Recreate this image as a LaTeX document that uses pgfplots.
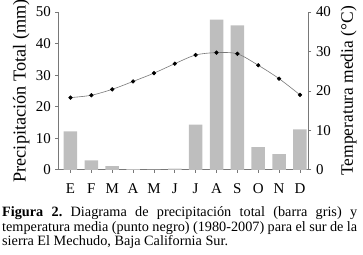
\documentclass[border=0pt]{standalone}
\usepackage{fontspec}
\setmainfont{Liberation Serif}
\usepackage{pgfplots}
\pgfplotsset{compat=1.18}
\definecolor{barcol}{RGB}{190,190,190}
\definecolor{axcol}{RGB}{120,120,120}
\definecolor{lincol}{RGB}{120,120,120}
\begin{document}
\frenchspacing
\begin{tikzpicture}[x=1bp,y=1bp]
\path[use as bounding box] (0,0) rectangle (363,255);
\begin{axis}[
  at={(58.5bp,85.2bp)}, anchor=south west,
  scale only axis, width=249.8bp, height=157.8bp,
  xmin=-0.575, xmax=11.4, ymin=0, ymax=50,
  axis y line*=left, axis x line*=bottom,
  axis line style={draw=axcol, line width=0.6bp, -},
  xtick={0,...,11},
  xticklabels={E,F,M,A,M,J,J,A,S,O,N,D},
  ytick={0,10,20,30,40,50},
  tick align=outside,
  major tick length=3bp,
  tick style={draw=axcol, line width=0.6bp},
  tick label style={font=\fontsize{15}{17}\selectfont},
  /pgf/number format/assume math mode=true,
  xticklabel style={anchor=base, inner sep=0pt, yshift=-20.5bp},
  yticklabel style={anchor=east, inner sep=0pt, xshift=-4.5bp},
  ylabel={Precipitación Total (mm)},
  ylabel style={font=\fontsize{18.3}{20}\selectfont, at={(axis description cs:-0.132,0.5)}, anchor=base, inner sep=0pt},
  clip=false,
]
\addplot[ybar, bar width=13.5bp, fill=barcol, draw=none] coordinates {
(0,12.2) (1,3.0) (2,1.2) (3,0.2) (4,0.05) (5,0.4) (6,14.3) (7,47.6) (8,45.8) (9,7.2) (10,5.0) (11,12.8)
};
\end{axis}
\begin{axis}[
  at={(58.5bp,85.2bp)}, anchor=south west,
  scale only axis, width=249.8bp, height=157.8bp,
  xmin=-0.575, xmax=11.4, ymin=0, ymax=40,
  axis y line*=right, axis x line=none,
  axis line style={draw=axcol, line width=0.6bp, -},
  ytick={0,10,20,30,40},
  tick align=outside,
  major tick length=3bp,
  tick style={draw=axcol, line width=0.6bp},
  tick label style={font=\fontsize{15}{17}\selectfont},
  /pgf/number format/assume math mode=true,
  yticklabel style={anchor=west, inner sep=0pt, xshift=4.5bp},
  ylabel={Temperatura media (°C)},
  ylabel style={font=\fontsize{17.5}{20}\selectfont, at={(axis description cs:1.178,0.5)}, anchor=base, inner sep=0pt},
  clip=false,
]
\addplot[smooth, draw=lincol, line width=0.6bp, mark=*, mark size=1.8bp, mark options={fill=black, draw=black}] coordinates {
(0,18.3) (1,18.9) (2,20.4) (3,22.4) (4,24.5) (5,26.9) (6,29.1) (7,29.7) (8,29.4) (9,26.5) (10,23.1) (11,19.0)
};
\end{axis}
\begin{scope}[every node/.style={inner sep=0pt, anchor=base west, font=\fontsize{14.3}{14.5}\selectfont}]
\node at (2,38.3) {\makebox[355bp][s]{\textbf{Figura 2.} Diagrama de precipitación total (barra gris) y}};
\node at (2,24) {\makebox[355bp][s]{temperatura media (punto negro) (1980-2007) para el sur de la}};
\node at (2,9.5) {sierra El Mechudo, Baja California Sur.};
\end{scope}
\end{tikzpicture}
\end{document}
